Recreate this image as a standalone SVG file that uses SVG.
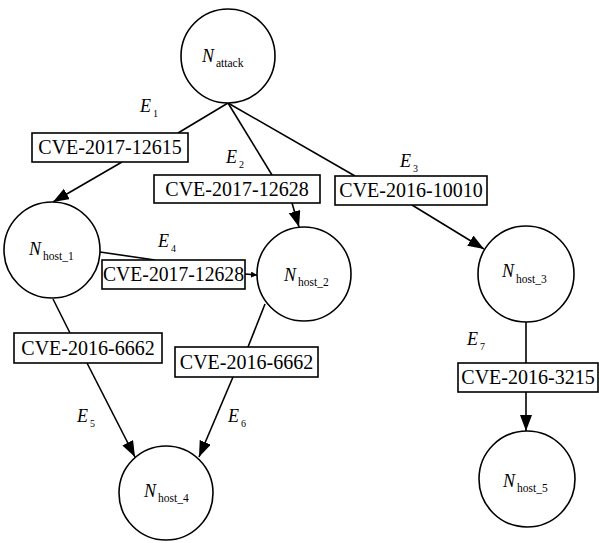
<svg xmlns="http://www.w3.org/2000/svg" width="599" height="543" viewBox="0 0 599 543">
<style>
.node{fill:#fff;stroke:#000;stroke-width:1.6}
.box{fill:#fff;stroke:#000;stroke-width:1.6}
.edge{stroke:#000;stroke-width:1.6;fill:none}
text{font-family:'Liberation Serif',Tinos,'Times New Roman',serif;fill:#000}
.cve{font-size:20px;text-anchor:middle}
.n{font-size:18px;font-style:italic}
.sub{font-size:11.5px}
.e{font-size:18px;font-style:italic}
.es{font-size:10px}
</style>
<defs>
<marker id="arr" markerUnits="userSpaceOnUse" markerWidth="17" markerHeight="13" refX="16" refY="6" orient="auto">
<path d="M0,0 L16,6 L0,12 z" fill="#000"/>
</marker>
<marker id="arrs" markerUnits="userSpaceOnUse" markerWidth="8" markerHeight="8" refX="6" refY="3" orient="auto">
<path d="M0,0 L6,3 L0,6 z" fill="#000"/>
</marker>
</defs>
<g id="connectors">
<line class="edge" x1="228" y1="103" x2="178" y2="133"/>
<line class="edge" x1="122" y1="162" x2="53" y2="202" marker-end="url(#arr)"/>
<line class="edge" x1="228" y1="103" x2="272" y2="175"/>
<line class="edge" x1="292" y1="203" x2="299" y2="227" marker-end="url(#arr)"/>
<line class="edge" x1="228" y1="103" x2="355" y2="176"/>
<line class="edge" x1="412" y1="205" x2="484" y2="249" marker-end="url(#arr)"/>
<line class="edge" x1="100" y1="252" x2="155" y2="260"/>
<line class="edge" x1="245" y1="274" x2="257" y2="275" marker-end="url(#arrs)"/>
<line class="edge" x1="53" y1="299" x2="70" y2="333"/>
<line class="edge" x1="87" y1="363" x2="135" y2="457" marker-end="url(#arr)"/>
<line class="edge" x1="265" y1="304" x2="248" y2="347"/>
<line class="edge" x1="233" y1="377" x2="199" y2="457" marker-end="url(#arr)"/>
<line class="edge" x1="526" y1="322" x2="526" y2="363"/>
<line class="edge" x1="526" y1="392" x2="526" y2="431" marker-end="url(#arr)"/>
</g>
<g id="edge-labels">
<g id="E1"><rect class="box" x="32" y="133" width="156" height="29"/><text class="cve" x="110" y="154">CVE-2017-12615</text>
<text class="e" x="140" y="112">E</text><text class="es" x="153" y="117">1</text></g>
<g id="E2"><rect class="box" x="154" y="175" width="166" height="28"/><text class="cve" x="237" y="196">CVE-2017-12628</text>
<text class="e" x="226" y="163">E</text><text class="es" x="239" y="168">2</text></g>
<g id="E3"><rect class="box" x="335" y="176" width="152" height="29"/><text class="cve" x="411" y="197">CVE-2016-10010</text>
<text class="e" x="400" y="167">E</text><text class="es" x="413" y="172">3</text></g>
<g id="E4"><rect class="box" x="102" y="260" width="143" height="29"/><text class="cve" x="173.5" y="281" textLength="141" lengthAdjust="spacingAndGlyphs">CVE-2017-12628</text>
<text class="e" x="158" y="247">E</text><text class="es" x="171" y="252">4</text></g>
<g id="E5"><rect class="box" x="14" y="333" width="148" height="30"/><text class="cve" x="88" y="355">CVE-2016-6662</text>
<text class="e" x="77" y="422">E</text><text class="es" x="90" y="427">5</text></g>
<g id="E6"><rect class="box" x="175" y="347" width="143" height="30"/><text class="cve" x="246.5" y="369">CVE-2016-6662</text>
<text class="e" x="228" y="422">E</text><text class="es" x="241" y="427">6</text></g>
<g id="E7"><rect class="box" x="458" y="363" width="140" height="29"/><text class="cve" x="528" y="384">CVE-2016-3215</text>
<text class="e" x="467" y="345">E</text><text class="es" x="480" y="350">7</text></g>
</g>
<g id="N_attack"><circle class="node" cx="228" cy="56" r="47"/><text class="n" x="202" y="62">N</text><text class="sub" x="216" y="67">attack</text></g>
<g id="N_host_1"><circle class="node" cx="52" cy="250" r="48"/><text class="n" x="29" y="255">N</text><text class="sub" x="43" y="260">host_1</text></g>
<g id="N_host_2"><circle class="node" cx="304" cy="274" r="47"/><text class="n" x="284" y="281">N</text><text class="sub" x="298" y="286">host_2</text></g>
<g id="N_host_3"><circle class="node" cx="526" cy="274" r="48"/><text class="n" x="502" y="277">N</text><text class="sub" x="516" y="283">host_3</text></g>
<g id="N_host_4"><circle class="node" cx="166" cy="493" r="47"/><text class="n" x="144" y="497">N</text><text class="sub" x="158" y="502">host_4</text></g>
<g id="N_host_5"><circle class="node" cx="527" cy="479" r="48"/><text class="n" x="503" y="487">N</text><text class="sub" x="517" y="492">host_5</text></g>
</svg>
